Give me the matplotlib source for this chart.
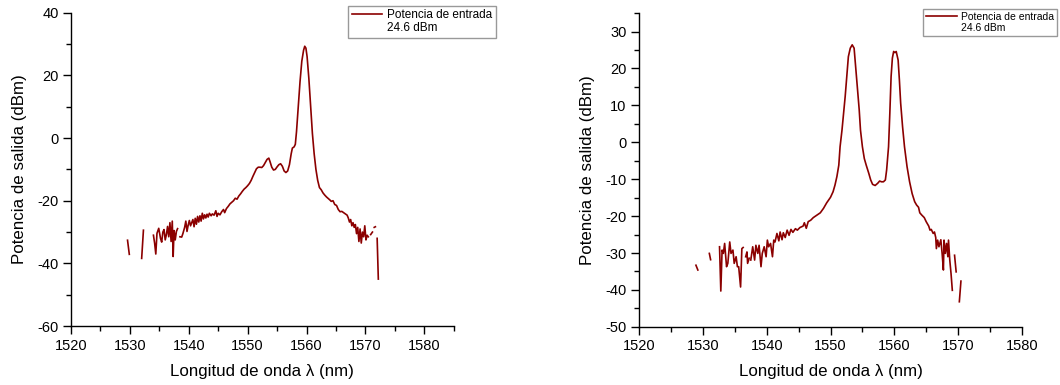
import numpy as np
import matplotlib
matplotlib.use("Agg")
import matplotlib.pyplot as plt
from matplotlib.ticker import MultipleLocator

plt.rcParams["font.family"] = ["Liberation Sans", "DejaVu Sans"]
plt.rcParams["axes.unicode_minus"] = False

nan = np.nan

# spectrum 1: single peak (wavelength nm, output power dBm), nan = gap
left_wl = [1529.6, 1529.9, nan,
           1532.0, 1532.3, nan,
           1534.0, 1534.2, 1534.4, 1534.6, 1534.9, 1535.2, 1535.4, 1535.6, 1535.8, 1536.0,
           1536.2, 1536.4, 1536.6, 1536.8, 1537.0, 1537.2, 1537.35, 1537.5, 1537.7, 1537.9,
           1538.1, nan,
           1538.5, 1538.8, 1539.0, 1539.3, 1539.5, 1539.7, 1539.9, 1540.1, 1540.3, 1540.5,
           1540.7, 1540.9, 1541.1, 1541.3, 1541.5, 1541.7, 1541.9, 1542.1, 1542.3, 1542.5,
           1542.7, 1542.9, 1543.1, 1543.3, 1543.5, 1543.8, 1544.0, 1544.3, 1544.6, 1544.8,
           1545.0, 1545.3, 1545.6, 1545.9, 1546.1, 1546.4, 1546.7, 1547.0, 1547.3, 1547.6,
           1547.9, 1548.2, 1548.5, 1548.8, 1549.1, 1549.4, 1549.7, 1550.0, 1550.3, 1550.6,
           1550.9, 1551.2, 1551.5, 1551.8, 1552.1, 1552.4, 1552.7, 1553.0, 1553.3, 1553.6,
           1553.8, 1554.1, 1554.4, 1554.7, 1555.0, 1555.3, 1555.6, 1555.9, 1556.2, 1556.5,
           1556.8, 1557.1, 1557.4, 1557.6, 1557.9, 1558.1, 1558.3, 1558.6, 1558.9, 1559.2,
           1559.5, 1559.7, 1559.9, 1560.1, 1560.4, 1560.7, 1561.0, 1561.3, 1561.6, 1561.9,
           1562.2, 1562.5, 1562.8, 1563.1, 1563.4, 1563.7, 1564.0, 1564.2, 1564.5, 1564.8,
           1565.1, 1565.4, 1565.7, 1566.0, 1566.3, 1566.6, 1566.9, 1567.1, 1567.3, 1567.5,
           1567.7, 1567.9, 1568.1, 1568.3, 1568.5, 1568.7, 1568.9, 1569.1, 1569.3, 1569.5,
           1569.7, 1569.9, 1570.1, 1570.3, 1570.5, nan,
           1570.9, 1571.2, nan,
           1571.5, 1571.7, nan,
           1572.0, 1572.2]
left_pw = [-32.6, -37.1, nan,
           -38.4, -29.4, nan,
           -31.0, -33.5, -37.0, -30.4, -28.8, -32.0, -33.2, -30.0, -29.2, -32.5,
           -30.8, -28.2, -31.5, -27.0, -33.0, -26.5, -37.8, -29.5, -32.5, -29.8,
           -28.9, nan,
           -31.5, -31.6, -30.5, -28.5, -26.5, -29.8, -27.8, -26.3, -28.0, -27.0,
           -26.0, -28.3, -25.6, -27.5, -25.0, -26.8, -24.8, -26.5, -24.0, -25.8,
           -24.5, -25.5, -24.3, -25.2, -24.0, -24.8, -24.2, -24.6, -23.2, -25.0,
           -24.0, -24.5, -23.5, -22.8, -23.8, -22.5, -21.8, -21.0, -20.5, -20.0,
           -19.2, -19.5, -18.5, -17.8, -17.0, -16.3, -15.8, -15.2, -14.5, -13.5,
           -12.2, -11.0, -9.8, -9.3, -9.3, -9.4, -8.8, -7.8, -6.8, -6.4,
           -7.5, -9.3, -10.2, -10.0, -9.2, -8.5, -8.2, -9.0, -10.5, -11.0,
           -10.5, -8.5, -5.0, -3.2, -2.8, -2.0, 2.0, 10.0, 18.0, 24.5,
           28.0, 29.3, 28.7, 26.0, 19.0, 10.0, 1.5, -5.0, -10.0, -13.5,
           -15.8, -16.5, -17.5, -18.2, -18.8, -19.3, -19.8, -20.2, -20.0, -21.2,
           -21.5, -22.8, -23.5, -23.4, -23.8, -24.2, -24.6, -25.5, -26.8, -26.0,
           -28.0, -27.0, -28.5, -27.6, -30.5, -28.5, -33.0, -29.0, -33.5, -30.0,
           -31.5, -28.0, -32.5, -31.0, -31.5, nan,
           -30.8, -30.0, nan,
           -28.5, -28.3, nan,
           -32.0, -45.0]

# spectrum 2: two peaks
right_wl = [1528.9, 1529.2, nan,
            1531.0, 1531.2, nan,
            1532.6, 1532.8, 1533.0, 1533.2, 1533.4, 1533.7, 1533.9, 1534.2, 1534.4, 1534.7,
            1534.9, 1535.2, 1535.4, 1535.6, 1535.9, 1536.1, 1536.3, nan,
            1536.7, 1536.9, 1537.0, 1537.25, nan,
            1537.5, 1537.8, 1538.1, 1538.3, 1538.6, 1538.8, 1539.1, 1539.3, 1539.6, 1539.9,
            1540.1, 1540.3, 1540.6, 1540.9, 1541.1, 1541.3, 1541.6, 1541.9, 1542.1, 1542.4,
            1542.6, 1542.9, 1543.2, 1543.5, 1543.8, 1544.1, 1544.5, 1544.8, 1545.2, 1545.7,
            1545.9, 1546.2, 1546.5, 1546.9, 1547.3, 1547.9, 1548.4, 1548.9, 1549.4, 1550.0,
            1550.4, 1550.7, 1551.0, 1551.3, 1551.5, 1551.8, 1552.0, 1552.3, 1552.6, 1552.8,
            1553.1, 1553.4, 1553.7, 1553.9, 1554.2, 1554.5, 1554.7, 1555.0, 1555.3, 1555.6,
            1556.0, 1556.3, 1556.6, 1557.0, 1557.4, 1557.7, 1558.0, 1558.3, 1558.6, 1558.8,
            1559.1, 1559.3, 1559.5, 1559.7, 1559.9, 1560.1, 1560.3, 1560.6, 1560.8, 1561.0,
            1561.3, 1561.6, 1562.0, 1562.4, 1562.8, 1563.2, 1563.5, 1563.8, 1564.0, 1564.3,
            1564.7, 1565.0, 1565.4, 1565.6, 1565.8, 1566.1, 1566.3, 1566.5, 1566.6, 1566.8,
            1567.0, 1567.3, 1567.5, 1567.7, 1567.8, 1568.0, 1568.2, 1568.4, 1568.5, 1568.7,
            1568.9, 1569.1, nan,
            1569.45, 1569.7, nan,
            1570.2, 1570.45]
right_pw = [-33.3, -34.6, nan,
            -30.1, -31.8, nan,
            -28.3, -40.3, -29.2, -30.1, -27.4, -33.7, -32.8, -27.0, -30.1, -29.2,
            -32.8, -31.0, -33.7, -33.7, -39.2, -28.8, -28.5, nan,
            -31.0, -29.7, -32.8, -31.4, nan,
            -31.9, -28.3, -31.9, -27.9, -30.1, -27.9, -33.7, -30.1, -28.3, -31.0,
            -26.5, -28.3, -27.4, -31.0, -26.5, -27.0, -24.7, -26.7, -24.3, -26.4,
            -24.5, -25.8, -23.8, -25.2, -23.6, -24.4, -23.4, -23.8, -23.1, -22.7,
            -21.8, -23.3, -21.5, -21.1, -20.4, -19.7, -19.1, -17.9, -16.4, -14.9,
            -13.4, -11.6, -9.3, -6.2, -1.2, 3.3, 6.9, 12.4, 18.7, 23.2,
            25.5, 26.4, 25.5, 21.4, 15.1, 8.8, 3.3, -1.2, -4.4, -6.2,
            -8.4, -10.2, -11.4, -11.7, -11.1, -10.5, -10.7, -10.7, -10.2, -7.5,
            -1.2, 7.8, 17.8, 22.8, 24.6, 24.3, 24.6, 22.3, 16.9, 10.6,
            4.2, -1.2, -6.6, -10.7, -13.9, -16.1, -17.0, -17.6, -19.1, -19.7,
            -20.4, -21.5, -22.7, -23.8, -23.6, -24.7, -24.3, -25.8, -28.8, -26.5,
            -28.3, -26.4, -30.1, -34.6, -26.5, -30.1, -27.4, -31.0, -26.5, -31.9,
            -35.6, -40.1, nan,
            -30.6, -35.1, nan,
            -43.2, -37.6]

legend_label = "Potencia de entrada"
legend_power = "24.6 dBm"
line_color = "#8b0000"

fig = plt.figure(figsize=(10.6, 3.85), dpi=100)
ax1 = fig.add_axes([0.067, 0.153, 0.361, 0.814])
ax2 = fig.add_axes([0.603, 0.151, 0.361, 0.815])


def style_axes(ax, xlim, ylim, ymajor, yminor):
    ax.set_xlim(*xlim)
    ax.set_ylim(*ylim)
    ax.xaxis.set_major_locator(MultipleLocator(10))
    ax.xaxis.set_minor_locator(MultipleLocator(5))
    ax.yaxis.set_major_locator(MultipleLocator(ymajor))
    ax.yaxis.set_minor_locator(MultipleLocator(yminor))
    for s in ["top", "right"]:
        ax.spines[s].set_visible(False)
    for s in ["left", "bottom"]:
        ax.spines[s].set_linewidth(1.0)
    ax.tick_params(which="major", direction="out", length=6, width=1, labelsize=10.5, pad=3)
    ax.tick_params(which="minor", direction="out", length=3.5, width=1)
    ax.set_xlabel("Longitud de onda λ (nm)", fontsize=12.2, labelpad=8)
    ax.set_ylabel("Potencia de salida (dBm)", fontsize=12.2, labelpad=7.5)


ax1.plot(left_wl, left_pw, color=line_color, lw=1.2, label=legend_label)
ax1.plot([], [], color="none", label=legend_power)
style_axes(ax1, (1520, 1585), (-60, 40), 20, 10)

ax2.plot(right_wl, right_pw, color=line_color, lw=1.2, label=legend_label)
ax2.plot([], [], color="none", label=legend_power)
style_axes(ax2, (1520, 1580), (-50, 35), 10, 5)

leg1 = ax1.legend(loc="upper left", bbox_to_anchor=(348 / 1060, 1 - 5.5 / 385),
                  bbox_transform=fig.transFigure, fontsize=8.5, frameon=True, fancybox=False,
                  handlelength=2.6, handletextpad=0.4, labelspacing=0.1,
                  borderpad=0.3, borderaxespad=0)
leg2 = ax2.legend(loc="upper left", bbox_to_anchor=(922.7 / 1060, 1 - 9 / 385),
                  bbox_transform=fig.transFigure, fontsize=7.5, frameon=True, fancybox=False,
                  handlelength=3.0, handletextpad=0.4, labelspacing=0.1,
                  borderpad=0.3, borderaxespad=0)
for leg in (leg1, leg2):
    leg.get_frame().set_edgecolor("#808080")
    leg.get_frame().set_linewidth(1.0)

fig.savefig("out.png", dpi=100)
